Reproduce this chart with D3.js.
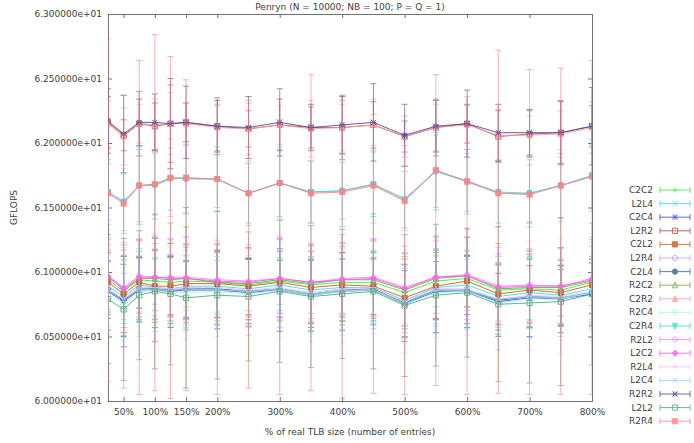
<!DOCTYPE html>
<html>
<head>
<meta charset="utf-8">
<script src="https://cdn.jsdelivr.net/npm/d3@7"></script>
<style>
body { margin: 0; background: #fff; }
text { font-family: "DejaVu Sans", sans-serif; font-size: 9px; fill: #404040; }
</style>
</head>
<body>
<svg width="694" height="443"></svg>
<script>
// x positions (% of real TLB size)
var sizes = [25,50,75,100,125,150,200,250,300,350,400,450,500,550,600,650,700,750,800];
var xTicks = [50,100,150,200,300,400,500,600,700,800];
var yTicks = [60,60.5,61,61.5,62,62.5,63];

var names = ["C2C2","L2L4","C2C4","L2R2","C2L2","L2R4","C2L4","R2C2","C2R2","R2C4","C2R4","R2L2","L2C2","R2L4","L2C4","R2R2","L2L2","R2R4"];

// mean GFLOPS per series
var C2C2 = [60.94,60.85,60.94,60.93,60.92,60.93,60.92,60.90,60.93,60.90,60.92,60.92,60.84,60.93,60.95,60.86,60.87,60.86,60.92];
var L2L4 = [60.89,60.81,60.90,60.88,60.87,60.89,60.89,60.87,60.90,60.86,60.88,60.88,60.78,60.88,60.90,60.81,60.84,60.82,60.87];
var C2C4 = [60.85,60.77,60.86,60.86,60.85,60.86,60.86,60.84,60.86,60.82,60.85,60.86,60.75,60.85,60.85,60.77,60.80,60.79,60.83];
var L2R2 = [62.16,62.06,62.15,62.13,62.15,62.16,62.13,62.11,62.14,62.12,62.12,62.14,62.05,62.12,62.15,62.05,62.07,62.08,62.13];
var C2L2 = [60.92,60.83,60.92,60.89,60.89,60.91,60.91,60.89,60.92,60.88,60.90,60.89,60.80,60.89,60.93,60.83,60.86,60.84,60.90];
var L2R4 = [61.62,61.55,61.67,61.68,61.73,61.72,61.72,61.61,61.69,61.62,61.63,61.68,61.57,61.78,61.71,61.61,61.61,61.67,61.74];
var C2L4 = [60.86,60.78,60.87,60.87,60.86,60.87,60.87,60.85,60.87,60.83,60.86,60.87,60.76,60.86,60.86,60.78,60.81,60.80,60.84];
var R2C2 = [60.97,60.86,60.95,60.95,60.94,60.95,60.92,60.91,60.94,60.91,60.94,60.94,60.86,60.95,60.97,60.87,60.88,60.88,60.93];
var C2R2 = [62.15,62.05,62.15,62.14,62.15,62.15,62.12,62.11,62.14,62.11,62.12,62.14,62.05,62.12,62.14,62.06,62.06,62.07,62.12];
var R2C4 = [60.83,60.75,60.85,60.86,60.84,60.84,60.85,60.83,60.86,60.82,60.85,60.86,60.75,60.84,60.85,60.76,60.79,60.79,60.84];
var C2R4 = [61.62,61.54,61.67,61.67,61.72,61.73,61.72,61.61,61.69,61.62,61.63,61.68,61.56,61.78,61.70,61.62,61.61,61.67,61.75];
var R2L2 = [60.97,60.88,60.97,60.96,60.96,60.96,60.94,60.93,60.95,60.92,60.95,60.96,60.88,60.96,60.98,60.89,60.90,60.89,60.95];
var L2C2 = [60.96,60.87,60.96,60.96,60.95,60.95,60.93,60.92,60.95,60.92,60.94,60.95,60.87,60.96,60.97,60.88,60.89,60.89,60.94];
var R2L4 = [60.87,60.79,60.88,60.88,60.87,60.88,60.88,60.86,60.88,60.84,60.87,60.88,60.77,60.87,60.87,60.79,60.82,60.81,60.85];
var L2C4 = [60.86,60.79,60.87,60.86,60.86,60.87,60.86,60.85,60.87,60.83,60.86,60.86,60.77,60.86,60.86,60.79,60.81,60.80,60.84];
var R2R2 = [62.17,62.07,62.16,62.16,62.15,62.16,62.13,62.12,62.16,62.12,62.14,62.16,62.06,62.13,62.15,62.08,62.08,62.08,62.13];
var L2L2 = [60.79,60.71,60.82,60.85,60.83,60.80,60.82,60.81,60.85,60.81,60.83,60.85,60.74,60.82,60.84,60.75,60.76,60.77,60.83];
var R2R4 = [61.61,61.53,61.67,61.68,61.73,61.73,61.72,61.61,61.69,61.61,61.62,61.67,61.55,61.79,61.70,61.61,61.60,61.67,61.74];

// error bar half widths
var C2C2_err = [0.15,0.25,0.22,0.18,0.30,0.20,0.25,0.20,0.18,0.22,0.30,0.25,0.28,0.20,0.22,0.26,0.24,0.20,0.18];
var L2L4_err = [0.20,0.18,0.28,0.22,0.25,0.30,0.20,0.24,0.20,0.26,0.22,0.28,0.25,0.30,0.20,0.24,0.28,0.22,0.20];
var C2C4_err = [0.30,0.35,0.25,0.40,0.28,0.22,0.30,0.26,0.32,0.28,0.30,0.24,0.26,0.32,0.28,0.22,0.30,0.26,0.24];
var L2R2_err = [0.20,0.12,0.25,0.18,0.30,0.15,0.22,0.14,0.20,0.16,0.25,0.18,0.12,0.22,0.15,0.20,0.18,0.25,0.16];
var C2L2_err = [0.25,0.30,0.20,0.28,0.22,0.30,0.26,0.22,0.24,0.28,0.25,0.22,0.30,0.26,0.20,0.24,0.28,0.25,0.22];
var L2R4_err = [0.22,0.25,0.28,0.24,0.30,0.26,0.22,0.25,0.28,0.24,0.22,0.30,0.25,0.28,0.24,0.26,0.22,0.28,0.25];
var C2L4_err = [0.22,0.28,0.24,0.30,0.26,0.22,0.28,0.25,0.22,0.26,0.24,0.28,0.30,0.22,0.26,0.28,0.24,0.22,0.26];
var R2C2_err = [0.28,0.35,0.30,0.32,0.28,0.40,0.30,0.28,0.32,0.30,0.35,0.30,0.28,0.32,0.30,0.35,0.28,0.30,0.32];
var C2R2_err = [0.18,0.22,0.15,0.20,0.24,0.16,0.18,0.20,0.15,0.22,0.18,0.20,0.16,0.18,0.22,0.20,0.15,0.18,0.20];
var R2C4_err = [0.30,0.28,0.32,0.30,0.35,0.28,0.30,0.32,0.28,0.30,0.34,0.30,0.28,0.32,0.30,0.36,0.30,0.32,0.30];
var C2R4_err = [0.25,0.22,0.30,0.26,0.24,0.28,0.25,0.23,0.26,0.24,0.28,0.25,0.22,0.30,0.25,0.24,0.26,0.25,0.28];
var R2L2_err = [0.30,0.35,0.28,0.32,0.30,0.26,0.30,0.28,0.32,0.30,0.28,0.30,0.32,0.28,0.35,0.30,0.28,0.30,0.32];
var L2C2_err = [0.25,0.30,0.28,0.26,0.30,0.32,0.28,0.26,0.30,0.28,0.26,0.30,0.28,0.32,0.30,0.26,0.28,0.30,0.26];
var R2L4_err = [0.35,0.40,0.38,0.42,0.36,0.40,0.38,0.35,0.40,0.38,0.42,0.36,0.40,0.38,0.36,0.40,0.42,0.45,0.38];
var L2C4_err = [0.28,0.30,0.26,0.32,0.28,0.30,0.26,0.28,0.30,0.28,0.32,0.30,0.28,0.26,0.30,0.28,0.32,0.30,0.28];
var R2R2_err = [0.25,0.30,0.18,0.22,0.35,0.28,0.20,0.24,0.26,0.18,0.22,0.30,0.24,0.20,0.26,0.22,0.18,0.24,0.30];
var L2L2_err = [0.50,0.55,0.50,0.60,0.55,0.70,0.65,0.50,0.55,0.55,0.50,0.60,0.55,0.55,0.50,0.60,0.62,0.65,0.55];
// R2R4 has wide, lopsided spread: explicit low / high ends
var R2R4_lo = [60.15,60.10,60.05,60.08,60.02,60.08,60.05,60.10,60.05,60.08,60.02,60.06,60.05,60.12,60.05,60.06,60.05,60.05,60.05];
var R2R4_hi = [62.80,62.37,62.64,62.84,62.67,62.49,62.29,62.33,62.18,62.53,62.33,62.22,61.98,62.53,62.29,62.72,62.57,62.58,62.64];

var values = [C2C2,L2L4,C2C4,L2R2,C2L2,L2R4,C2L4,R2C2,C2R2,R2C4,C2R4,R2L2,L2C2,R2L4,L2C4,R2R2,L2L2,R2R4];
var errors = [C2C2_err,L2L4_err,C2C4_err,L2R2_err,C2L2_err,L2R4_err,C2L4_err,R2C2_err,C2R2_err,R2C4_err,C2R4_err,R2L2_err,L2C2_err,R2L4_err,L2C4_err,R2R2_err,L2L2_err,null];

var colors = ["#33ee33","#33dddd","#3344ee","#b04848","#cc5511","#cc99ff","#336688","#66aa33","#ff9999","#99ffdd","#33ddcc","#ff77ff","#ff55ff","#ffbbff","#99ccff","#444499","#44aa77","#ff8080"];
// gnuplot point types, cycle of 13
var shapes = ["plus","cross","star","square","fsquare","circle","fcircle","tri","ftri","itri","fitri","diamond","fdiamond","plus","cross","star","square","fsquare"];

var svg = d3.select("svg"),
    margin = {top: 14, right: 102, bottom: 42, left: 108},
    width = +svg.attr("width") - margin.left - margin.right,
    height = +svg.attr("height") - margin.top - margin.bottom;

var x = d3.scaleLinear().domain([25, 800]).range([0, width]);
var y = d3.scaleLinear().domain([60, 63]).range([height, 0]);

var g = svg.append("g")
    .attr("transform", "translate(" + margin.left + "," + margin.top + ")");

svg.append("defs").append("clipPath").attr("id", "clip")
    .append("rect").attr("width", width).attr("height", height);

// axes with inward ticks (gnuplot look)
var fmt = function(d) { return d3.format(".6f")(d / 10) + "e+01"; };
g.append("g").attr("class", "axis")
    .call(d3.axisLeft(y).tickValues(yTicks).tickSize(-4).tickPadding(6).tickFormat(fmt));
g.append("g").attr("class", "axis")
    .attr("transform", "translate(" + width + ",0)")
    .call(d3.axisRight(y).tickValues(yTicks).tickSize(-4).tickFormat(""));
g.append("g").attr("class", "axis")
    .attr("transform", "translate(0," + height + ")")
    .call(d3.axisBottom(x).tickValues(xTicks).tickSize(-4).tickPadding(8).tickFormat(function(d) { return d + "%"; }));
g.append("g").attr("class", "axis")
    .call(d3.axisTop(x).tickValues(xTicks).tickSize(-4).tickFormat(""));

g.selectAll(".axis path, .axis line").attr("stroke", "#707070");
g.selectAll(".axis text").attr("fill", "#404040").style("font-size", "9px").style("font-family", "DejaVu Sans, sans-serif");

// draw a gnuplot-like point symbol
function drawPoint(sel, shape, cx, cy, color) {
    var s = 2.6;
    var p = sel.append("g").attr("transform", "translate(" + cx + "," + cy + ")");
    var filled = shape.charAt(0) == "f";
    var base = filled ? shape.slice(1) : shape;
    var pathStr;
    if (base == "plus") pathStr = "M" + -s + ",0H" + s + "M0," + -s + "V" + s;
    else if (base == "cross") pathStr = "M" + -s + "," + -s + "L" + s + "," + s + "M" + -s + "," + s + "L" + s + "," + -s;
    else if (base == "star") pathStr = "M" + -s + ",0H" + s + "M0," + -s + "V" + s + "M" + -s + "," + -s + "L" + s + "," + s + "M" + -s + "," + s + "L" + s + "," + -s;
    else if (base == "square") pathStr = "M" + -s + "," + -s + "H" + s + "V" + s + "H" + -s + "Z";
    else if (base == "circle") pathStr = d3.symbol(d3.symbolCircle, 22)();
    else if (base == "tri") pathStr = "M0," + (-s - 0.5) + "L" + s + "," + s + "L" + -s + "," + s + "Z";
    else if (base == "itri") pathStr = "M0," + (s + 0.5) + "L" + s + "," + -s + "L" + -s + "," + -s + "Z";
    else pathStr = "M0," + (-s - 0.5) + "L" + (s + 0.5) + ",0L0," + (s + 0.5) + "L" + (-s - 0.5) + ",0Z";
    p.append("path").attr("d", pathStr)
        .attr("stroke", color)
        .attr("stroke-width", 1)
        .attr("fill", filled ? color : "none");
}

var plot = g.append("g").attr("clip-path", "url(#clip)");
var line = d3.line().x(function(d) { return x(d.x); }).y(function(d) { return y(d.y); });

names.forEach(function(name, i) {
    var pts = sizes.map(function(s, j) {
        var lo = errors[i] ? values[i][j] - errors[i][j] : R2R4_lo[j];
        var hi = errors[i] ? values[i][j] + errors[i][j] : R2R4_hi[j];
        return {x: s, y: values[i][j], lo: lo, hi: hi};
    });
    var sg = plot.append("g");
    // error bars
    var eb = sg.append("g").attr("opacity", 0.6);
    pts.forEach(function(d) {
        var x0 = x(d.x), y1 = y(d.lo), y2 = y(d.hi);
        eb.append("line").attr("x1", x0).attr("x2", x0).attr("y1", y1).attr("y2", y2)
            .attr("stroke", colors[i]).attr("stroke-width", 1);
        eb.append("line").attr("x1", x0 - 3).attr("x2", x0 + 3).attr("y1", y1).attr("y2", y1)
            .attr("stroke", colors[i]).attr("stroke-width", 1);
        eb.append("line").attr("x1", x0 - 3).attr("x2", x0 + 3).attr("y1", y2).attr("y2", y2)
            .attr("stroke", colors[i]).attr("stroke-width", 1);
    });
    var lg = sg.append("g").attr("opacity", 0.85);
    lg.append("path").datum(pts).attr("d", line)
        .attr("fill", "none").attr("stroke", colors[i]).attr("stroke-width", 1);
    pts.forEach(function(d) { drawPoint(lg, shapes[i], x(d.x), y(d.y), colors[i]); });
});

// legend
var legend = svg.append("g");
names.forEach(function(name, i) {
    var ly = 190 + i * 13.6;
    legend.append("text").attr("x", 653).attr("y", ly + 3).attr("text-anchor", "end").text(name);
    var lg = legend.append("g").attr("opacity", 0.8);
    lg.append("line").attr("x1", 660).attr("x2", 690).attr("y1", ly).attr("y2", ly).attr("stroke", colors[i]);
    lg.append("line").attr("x1", 660).attr("x2", 660).attr("y1", ly - 3).attr("y2", ly + 3).attr("stroke", colors[i]);
    lg.append("line").attr("x1", 690).attr("x2", 690).attr("y1", ly - 3).attr("y2", ly + 3).attr("stroke", colors[i]);
    drawPoint(lg, shapes[i], 675, ly, colors[i]);
});

// titles
svg.append("text").attr("x", margin.left + width / 2).attr("y", 10).attr("text-anchor", "middle")
    .text("Penryn (N = 10000; NB = 100; P = Q = 1)");
svg.append("text").attr("text-anchor", "middle")
    .attr("transform", "translate(17," + (margin.top + height / 2) + ") rotate(-90)")
    .text("GFLOPS");
svg.append("text").attr("x", margin.left + width / 2).attr("y", 435).attr("text-anchor", "middle")
    .text("% of real TLB size (number of entries)");
</script>
</body>
</html>
